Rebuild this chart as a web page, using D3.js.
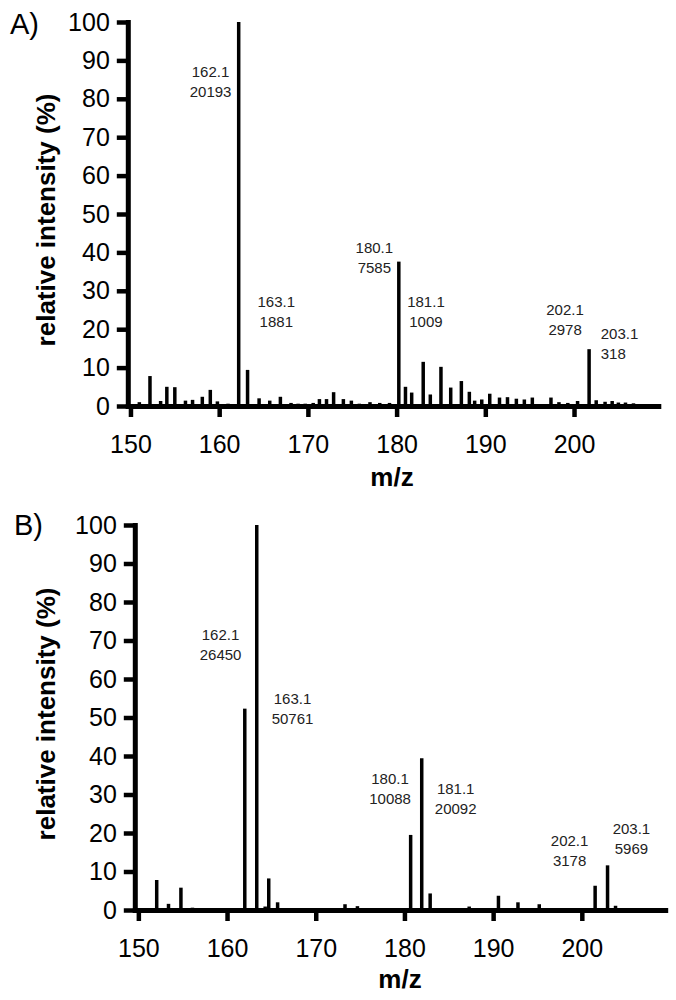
<!DOCTYPE html>
<html>
<head>
<meta charset="utf-8">
<script src="https://cdn.jsdelivr.net/npm/d3@7"></script>
<style>
  body { margin: 0; background: #fff; }
  svg { display: block; font-family: "Liberation Sans", Arial, sans-serif; }
</style>
</head>
<body>
<svg></svg>
<script>
// spectrum A: peak positions (m/z) and relative intensity (%)
const peaksA_mz = [151.0, 152.2, 153.4, 154.1, 155.0, 156.2, 157.0, 158.1, 159.0, 159.8,
  161.0, 162.2, 163.2, 164.5, 165.7, 166.9, 168.1, 168.9, 169.7, 170.6,
  171.3, 172.1, 172.9, 174.0, 174.9, 175.8, 177.0, 178.1, 179.2, 180.25,
  181.0, 181.7, 183.0, 183.8, 185.0, 186.1, 187.3, 188.2, 188.8, 189.6,
  190.5, 191.6, 192.5, 193.5, 194.4, 195.3, 196.3, 197.4, 198.3, 199.3,
  200.4, 201.7, 202.5, 203.5, 204.3, 205.0, 205.8, 206.7, 207.4];
const peaksA_int = [1.0, 7.8, 1.3, 5.0, 4.9, 1.4, 1.6, 2.4, 4.2, 1.2,
  0.6, 100, 9.4, 2.0, 1.4, 2.4, 0.8, 0.6, 0.6, 0.8,
  1.8, 1.8, 3.6, 1.8, 1.4, 0.6, 1.0, 0.8, 0.8, 37.6,
  5.0, 3.5, 11.5, 3.0, 10.2, 4.8, 6.5, 3.7, 1.4, 1.7,
  3.2, 2.2, 2.3, 1.9, 1.7, 2.2, 0.5, 2.2, 1.0, 0.8,
  1.3, 14.8, 1.5, 1.1, 1.3, 0.9, 0.9, 0.7, 0.4];

// spectrum B
const peaksB_mz = [152.07, 153.4, 154.8, 156.1, 157.4, 162.0, 163.35, 164.3, 164.7, 165.7,
  166.5, 167.5, 168.6, 173.3, 174.7, 176.1, 180.7, 181.95, 182.9, 187.3,
  190.6, 192.8, 193.8, 195.2, 196.4, 201.5, 202.9, 203.8, 205.1, 207.9];
const peaksB_int = [7.8, 1.6, 5.8, 0.6, 0.4, 52.3, 100, 0.9, 8.2, 2.0,
  0.4, 0.3, 0.3, 1.5, 1.0, 0.4, 19.5, 39.4, 4.3, 0.9,
  3.7, 2.0, 0.5, 1.5, 0.3, 6.3, 11.6, 1.1, 0.4, 0.3];

// annotated ions: m/z label and ion counts
const ionLabels = ["162.1", "163.1", "180.1", "181.1", "202.1", "203.1"];
const countsA = ["20193", "1881", "7585", "1009", "2978", "318"];
const countsB = ["26450", "50761", "10088", "20092", "3178", "5969"];

// axis ticks
const xTicks = [150, 160, 170, 180, 190, 200];
const yTicks = [0, 10, 20, 30, 40, 50, 60, 70, 80, 90, 100];

const svgWidth = 676;
const svgHeight = 1000;

const svg = d3.select("svg")
    .attr("width", svgWidth)
    .attr("height", svgHeight);

// where each annotation sits, in data units of its panel
const labelPosA = [
  { mz: 159.03, v: 87.1, anchor: "middle" },
  { mz: 166.44, v: 27.2, anchor: "middle" },
  { mz: 177.49, v: 41.3, anchor: "middle" },
  { mz: 183.31, v: 27.2, anchor: "middle" },
  { mz: 198.99, v: 25.0, anchor: "middle" },
  { mz: 203.01, v: 18.7, anchor: "start" }
];
const labelPosB = [
  { mz: 159.27, v: 71.4, anchor: "middle" },
  { mz: 167.38, v: 54.8, anchor: "middle" },
  { mz: 178.38, v: 34.2, anchor: "middle" },
  { mz: 185.78, v: 31.6, anchor: "middle" },
  { mz: 198.62, v: 17.9, anchor: "middle" },
  { mz: 205.59, v: 21.2, anchor: "middle" }
];

const panels = [
  { tag: "A)", tagX: 10, tagY: 34, mz: peaksA_mz, val: peaksA_int, counts: countsA, pos: labelPosA,
    xDomain: [149.7, 209.5], xRange: [127.8, 658.3], yRange: [406, 22],
    yTitleX: 55, yTitleY: 220, xTitleX: 392, xTitleY: 486 },
  { tag: "B)", tagX: 14, tagY: 535, mz: peaksB_mz, val: peaksB_int, counts: countsB, pos: labelPosB,
    xDomain: [149.6, 209.4], xRange: [134.8, 665.2], yRange: [910, 525],
    yTitleX: 55, yTitleY: 714, xTitleX: 400, xTitleY: 988 }
];

panels.forEach(p => drawPanel(p));

function drawPanel(p) {
    const x = d3.scaleLinear().domain(p.xDomain).range(p.xRange);
    const y = d3.scaleLinear().domain([0, 100]).range(p.yRange);
    const g = svg.append("g");

    // peaks as sticks
    g.selectAll(".peak")
        .data(d3.range(p.mz.length))
        .enter().append("line")
        .attr("class", "peak")
        .attr("x1", i => x(p.mz[i]))
        .attr("x2", i => x(p.mz[i]))
        .attr("y1", y(0))
        .attr("y2", i => y(p.val[i]))
        .attr("stroke", "#000")
        .attr("stroke-width", 3.5);

    // axes
    const xAxis = g.append("g")
        .attr("transform", `translate(0,${y(0)})`)
        .call(d3.axisBottom(x).tickValues(xTicks).tickSize(11).tickSizeOuter(0).tickPadding(18));

    const yAxis = g.append("g")
        .attr("transform", `translate(${p.xRange[0]},0)`)
        .call(d3.axisLeft(y).tickValues(yTicks).tickSize(11).tickSizeOuter(0).tickPadding(7));

    [xAxis, yAxis].forEach(a => {
        a.select(".domain")
            .attr("stroke-width", 5)
            .attr("stroke-linecap", "square");
        a.selectAll(".tick line").attr("stroke-width", 4.5);
        a.selectAll(".tick text")
            .attr("fill", "#000")
            .style("font-size", "25px")
            .style("font-family", "\"Liberation Sans\", Arial, sans-serif");
    });

    // annotations
    p.pos.forEach((pos, i) => {
        const t = g.append("text")
            .attr("x", x(pos.mz))
            .attr("y", y(pos.v))
            .attr("text-anchor", pos.anchor)
            .attr("fill", "#222")
            .style("font-size", "15px");
        t.append("tspan").attr("x", x(pos.mz)).attr("dy", "0.35em").text(ionLabels[i]);
        t.append("tspan").attr("x", x(pos.mz)).attr("dy", 20).text(p.counts[i]);
    });

    // titles
    g.append("text")
        .attr("transform", `translate(${p.yTitleX},${p.yTitleY}) rotate(-90)`)
        .attr("text-anchor", "middle")
        .style("font-size", "26px")
        .style("font-weight", "bold")
        .text("relative intensity (%)");

    g.append("text")
        .attr("x", p.xTitleX)
        .attr("y", p.xTitleY)
        .attr("text-anchor", "middle")
        .style("font-size", "26px")
        .style("font-weight", "bold")
        .text("m/z");

    g.append("text")
        .attr("x", p.tagX)
        .attr("y", p.tagY)
        .style("font-size", "29px")
        .text(p.tag);
}
</script>
</body>
</html>
